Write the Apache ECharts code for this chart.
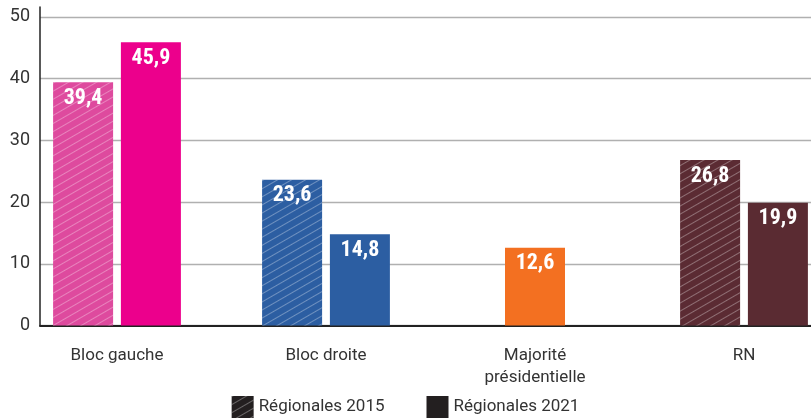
<!DOCTYPE html>
<html>
<head>
<meta charset="utf-8">
<script src="https://cdn.jsdelivr.net/npm/echarts@6/dist/echarts.min.js"></script>
<style>
  html, body { margin: 0; padding: 0; background: #fff; }
  #chart { width: 811px; height: 420px; }
</style>
</head>
<body>
<div id="chart"></div>
<script>
const categories = ["Bloc gauche", "Bloc droite", "Majorité\nprésidentielle", "RN"];
const values2015 = [39.4, 23.6, null, 26.8];
const values2021 = [45.9, 14.8, null, 19.9];
const valuesMajorite = [null, null, 12.6, null];
const colors2015 = ["#DE4A9E", "#2C5EA2", "#F37021", "#5B2B33"];
const colors2021 = ["#EC008C", "#2C5EA2", "#F37021", "#5A2B32"];
const yTicks = [0, 10, 20, 30, 40, 50];

// fines rayures pour 2015
const hatch = {
  symbol: "rect",
  symbolSize: 1,
  dashArrayX: [1, 0],
  dashArrayY: [1, 6],
  rotation: -Math.PI / 6,
  color: "rgba(255,255,255,0.32)"
};

const yMax = 51.6;
const labelStyle = {
  show: true,
  position: "insideTop",
  distance: 5,
  color: "#fff",
  fontFamily: "Roboto Condensed",
  fontWeight: "bold",
  fontSize: 22,
  formatter: p => String(p.value).replace(".", ",")
};
const axisFont = "Roboto";

const option = {
  animation: false,
  legend: {
    top: 391,
    left: "center",
    itemWidth: 22,
    itemHeight: 22,
    itemGap: 42,
    textStyle: { fontSize: 17, color: "#333", fontFamily: axisFont },
    data: [
      { name: "Régionales 2015", icon: "rect", itemStyle: { color: "#231F20", decal: hatch } },
      { name: "Régionales 2021", icon: "rect", itemStyle: { color: "#231F20" } }
    ]
  },
  grid: [
    { left: 117, right: 67, top: 7, bottom: 94.5 },
    { left: 40, right: 0, top: 7, bottom: 94.5 }
  ],
  xAxis: [
    {
      type: "category",
      gridIndex: 0,
      data: categories,
      boundaryGap: false,
      axisLine: { show: false },
      axisTick: { show: false },
      axisLabel: {
        margin: 19,
        fontSize: 17,
        lineHeight: 22,
        color: "#333",
        fontFamily: axisFont
      }
    },
    {
      type: "category",
      gridIndex: 0,
      data: categories,
      boundaryGap: false,
      show: false
    },
    {
      type: "category",
      gridIndex: 1,
      data: categories,
      axisLine: { show: true, lineStyle: { color: "#222", width: 2 } },
      axisTick: { show: false },
      axisLabel: { show: false }
    }
  ],
  yAxis: [
    {
      type: "value",
      gridIndex: 0,
      min: 0,
      max: yMax,
      show: false
    },
    {
      type: "value",
      gridIndex: 1,
      min: 0,
      max: yMax,
      interval: 10,
      axisLine: { show: true, lineStyle: { color: "#222", width: 1.5 } },
      axisTick: { show: false },
      axisLabel: {
        margin: 10,
        fontSize: 18,
        color: "#333",
        fontFamily: axisFont,
        showMaxLabel: false,
        formatter: v => (yTicks.includes(v) ? String(v) : "")
      },
      splitLine: {
        show: true,
        showMaxLine: false,
        lineStyle: { color: "#b0b0b0", width: 1.3 }
      }
    }
  ],
  series: [
    {
      name: "Régionales 2015",
      type: "bar",
      xAxisIndex: 0,
      yAxisIndex: 0,
      clip: false,
      barWidth: 60,
      barGap: "13%",
      data: values2015,
      itemStyle: { color: p => colors2015[p.dataIndex], decal: hatch },
      label: labelStyle
    },
    {
      name: "Régionales 2021",
      type: "bar",
      xAxisIndex: 0,
      yAxisIndex: 0,
      clip: false,
      barWidth: 60,
      barGap: "13%",
      data: values2021,
      itemStyle: { color: p => colors2021[p.dataIndex] },
      label: labelStyle
    },
    {
      name: "Régionales 2021",
      type: "bar",
      xAxisIndex: 1,
      yAxisIndex: 0,
      clip: false,
      barWidth: 60,
      data: valuesMajorite,
      itemStyle: { color: p => colors2021[p.dataIndex] },
      label: labelStyle
    }
  ]
};

const myChart = echarts.init(document.getElementById("chart"));
myChart.setOption(option);
</script>
</body>
</html>
